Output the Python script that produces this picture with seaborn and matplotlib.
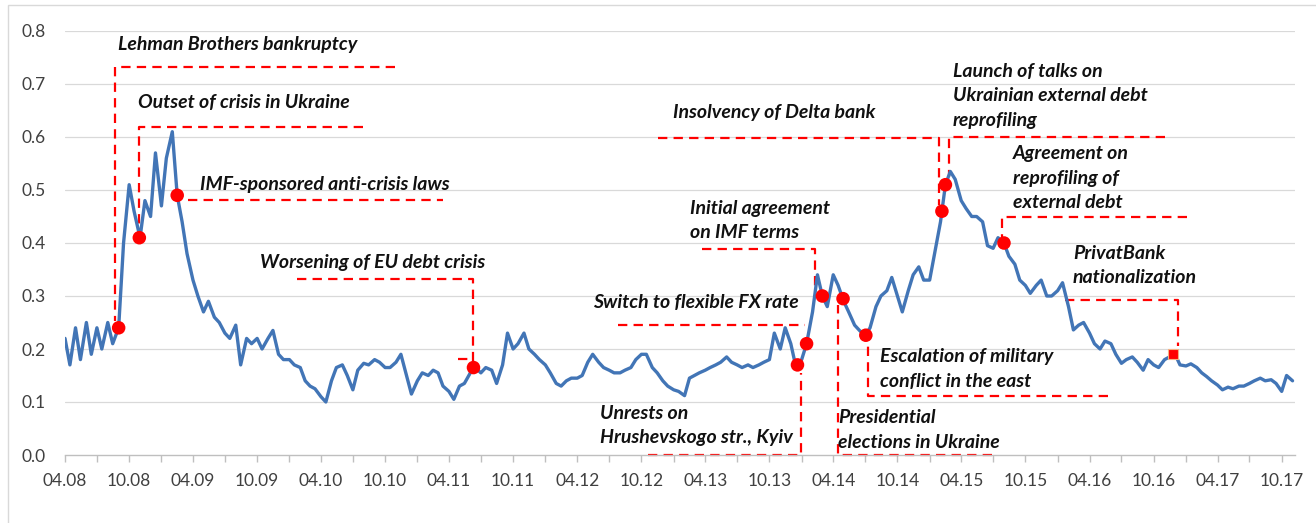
import matplotlib
matplotlib.use("Agg")
import matplotlib.pyplot as plt
import matplotlib.dates as mdates
import matplotlib.patches as mpatches
import pandas as pd
import seaborn as sns

# ---- data (semi-monthly readings, 1st and 15th of month) ----
v2008 = [0.22, 0.17, 0.24, 0.18, 0.25, 0.19, 0.24, 0.20, 0.25, 0.21, 0.24, 0.40,
         0.51, 0.46, 0.41, 0.48, 0.45, 0.57]
v2009 = [0.47, 0.56, 0.61, 0.49, 0.44, 0.38, 0.33, 0.30, 0.27, 0.29, 0.26, 0.25,
         0.23, 0.22, 0.245, 0.17, 0.22, 0.21, 0.22, 0.20, 0.22, 0.235, 0.19, 0.18]
v2010 = [0.18, 0.17, 0.165, 0.14, 0.13, 0.125, 0.11, 0.10, 0.14, 0.165, 0.17, 0.15,
         0.123, 0.16, 0.173, 0.17, 0.18, 0.175, 0.165, 0.165, 0.175, 0.19, 0.15, 0.115]
v2011 = [0.14, 0.155, 0.15, 0.16, 0.155, 0.13, 0.12, 0.105, 0.13, 0.135, 0.155, 0.165,
         0.155, 0.165, 0.16, 0.135, 0.17, 0.23, 0.20, 0.21, 0.23, 0.20, 0.19, 0.18]
v2012 = [0.17, 0.155, 0.135, 0.13, 0.14, 0.145, 0.145, 0.15, 0.175, 0.19, 0.175, 0.165,
         0.16, 0.155, 0.155, 0.16, 0.165, 0.18, 0.19, 0.19, 0.165, 0.155, 0.14, 0.13]
v2013 = [0.123, 0.12, 0.112, 0.145, 0.15, 0.155, 0.16, 0.165, 0.17, 0.175, 0.185, 0.175,
         0.17, 0.165, 0.17, 0.165, 0.17, 0.175, 0.18, 0.23, 0.20, 0.24, 0.21, 0.168]
v2014 = [0.18, 0.21, 0.27, 0.34, 0.30, 0.28, 0.34, 0.32, 0.29, 0.27, 0.245, 0.235,
         0.225, 0.24, 0.28, 0.30, 0.31, 0.335, 0.30, 0.27, 0.31, 0.34, 0.355, 0.33]
v2015 = [0.33, 0.38, 0.44, 0.51, 0.535, 0.52, 0.48, 0.465, 0.45, 0.45, 0.44, 0.395,
         0.39, 0.41, 0.40, 0.375, 0.36, 0.33, 0.32, 0.305, 0.32, 0.33, 0.30, 0.30]
v2016 = [0.31, 0.325, 0.28, 0.236, 0.245, 0.25, 0.23, 0.21, 0.20, 0.215, 0.21, 0.19,
         0.173, 0.18, 0.185, 0.175, 0.16, 0.18, 0.17, 0.165, 0.18, 0.185, 0.19, 0.17]
v2017 = [0.168, 0.172, 0.165, 0.155, 0.148, 0.14, 0.132, 0.123, 0.128, 0.125, 0.13,
         0.13, 0.135, 0.14, 0.145, 0.14, 0.142, 0.135, 0.12, 0.15, 0.14]

series_start = "2008-04-01"
series_end = "2017-11-01"

# events (dot markers)
event_dates = ["2008-09-01", "2008-10-30", "2009-02-15", "2011-06-10", "2013-12-20",
               "2014-01-15", "2014-03-01", "2014-04-29", "2014-07-03", "2015-02-05",
               "2015-02-15", "2015-08-01"]
event_values = [0.24, 0.41, 0.49, 0.165, 0.17, 0.21, 0.30, 0.295, 0.226, 0.46, 0.51, 0.40]
square_dates = ["2016-11-25"]
square_values = [0.19]

# annotation labels: (text lines, left date, top-line value)
labels = [
    (["Lehman Brothers bankruptcy"], "2008-08-30", 0.775),
    (["Outset of crisis in Ukraine"], "2008-10-26", 0.666),
    (["IMF-sponsored anti-crisis laws"], "2009-04-21", 0.511),
    (["Worsening of EU debt crisis"], "2009-10-09", 0.364),
    (["Switch to flexible FX rate"], "2012-05-16", 0.287),
    (["Initial agreement", "on IMF terms"], "2013-02-16", 0.466),
    (["Unrests on", "Hrushevskogo str., Kyiv"], "2012-06-04", 0.079),
    (["Presidential", "elections in Ukraine"], "2014-04-14", 0.070),
    (["Escalation of military", "conflict in the east"], "2014-08-12", 0.185),
    (["Insolvency of Delta bank"], "2012-12-30", 0.647),
    (["Launch of talks on", "Ukrainian external debt", "reprofiling"], "2015-03-08", 0.723),
    (["Agreement on", "reprofiling of", "external debt"], "2015-08-26", 0.568),
    (["PrivatBank", "nationalization"], "2016-02-14", 0.381),
]

# leader lines (dashed), each a polyline of (date, value)
leaders = [
    [("2010-10-29", 0.732), ("2008-08-21", 0.732), ("2008-08-21", 0.252)],
    [("2010-07-30", 0.619), ("2008-10-29", 0.619), ("2008-10-29", 0.425)],
    [("2009-03-18", 0.481), ("2011-03-15", 0.481)],
    [("2010-01-23", 0.332), ("2011-06-08", 0.332), ("2011-06-08", 0.178)],
    [("2011-04-27", 0.181), ("2011-05-31", 0.181)],
    [("2012-07-26", 0.245), ("2014-01-10", 0.245)],
    [("2013-03-22", 0.389), ("2014-02-08", 0.389), ("2014-02-08", 0.312)],
    [("2012-10-19", 0.0), ("2013-12-30", 0.0), ("2013-12-30", 0.155)],
    [("2015-06-27", 0.0), ("2014-04-14", 0.0), ("2014-04-14", 0.283)],
    [("2016-05-23", 0.111), ("2014-07-09", 0.111), ("2014-07-09", 0.212)],
    [("2012-11-17", 0.598), ("2015-01-27", 0.598), ("2015-01-27", 0.472)],
    [("2016-11-02", 0.600), ("2015-02-25", 0.600), ("2015-02-25", 0.525)],
    [("2017-01-03", 0.449), ("2015-07-26", 0.449), ("2015-07-26", 0.412)],
    [("2016-01-21", 0.292), ("2016-12-09", 0.292), ("2016-12-09", 0.205)],
]

y_ticks = [0.0, 0.1, 0.2, 0.3, 0.4, 0.5, 0.6, 0.7, 0.8]

# ---- build frame ----
dates = pd.date_range(series_start, series_end, freq="SMS")
values = v2008 + v2009 + v2010 + v2011 + v2012 + v2013 + v2014 + v2015 + v2016 + v2017
df = pd.DataFrame({"date": dates, "value": values})
ev = pd.DataFrame({"date": pd.to_datetime(event_dates), "value": event_values})
sq = pd.DataFrame({"date": pd.to_datetime(square_dates), "value": square_values})

# ---- style ----
sns.set_theme(style="white")
plt.rcParams["font.family"] = ["Lato", "DejaVu Sans"]

fig = plt.figure(figsize=(13.16, 5.23), dpi=100)
ax = fig.add_axes([65 / 1316, (523 - 455) / 523, 1230 / 1316, 424 / 523])

RED = "#FF0000"
BLUE = "#4275B6"

for y in y_ticks[1:]:
    ax.axhline(y, color="#D9D9D9", linewidth=0.9, zorder=0)

sns.lineplot(data=df, x="date", y="value", ax=ax, color=BLUE, linewidth=2.4, zorder=3)

for path in leaders:
    xs = [pd.Timestamp(p[0]) for p in path]
    ys = [p[1] for p in path]
    ax.plot(xs, ys, color=RED, linewidth=1.6, dashes=(4.2, 2.8), zorder=2, clip_on=False)

sns.scatterplot(data=ev, x="date", y="value", ax=ax, color=RED, s=95,
                edgecolor="none", zorder=5)
sns.scatterplot(data=sq, x="date", y="value", ax=ax, color=RED, marker="s", s=55,
                edgecolor="#F4B183", linewidth=0.8, zorder=5)

line_step = 0.0455
for lines, d, top in labels:
    for i, t in enumerate(lines):
        ax.text(pd.Timestamp(d), top - i * line_step, t, fontsize=14,
                fontweight="bold", fontstyle="italic", color="#111111",
                ha="left", va="center", zorder=6)

ax.set_xlim(pd.Timestamp("2008-04-01"), pd.Timestamp("2017-11-08"))
ax.set_ylim(0, 0.8)
ax.set_yticks(y_ticks)
ax.set_yticklabels([f"{y:.1f}" for y in y_ticks])
ax.xaxis.set_major_locator(mdates.MonthLocator(bymonth=[4, 10]))
ax.xaxis.set_major_formatter(mdates.DateFormatter("%m.%y"))
ax.xaxis.set_minor_locator(mdates.MonthLocator(bymonth=[1, 7]))

for s in ["left", "right", "top"]:
    ax.spines[s].set_visible(False)
ax.spines["bottom"].set_color("#BFBFBF")
ax.spines["bottom"].set_linewidth(1.0)

ax.tick_params(axis="x", which="both", direction="out", length=5, width=1,
               color="#BFBFBF", labelsize=12.5, labelcolor="#404040", pad=8, bottom=True)
ax.tick_params(axis="y", length=0, labelsize=12.5, labelcolor="#404040", pad=14)
ax.set_xlabel("")
ax.set_ylabel("")
ax.grid(False)

fig.patches.append(mpatches.Rectangle((8 / 1316, -0.02), 1.0, (523 - 5) / 523 + 0.02,
                                      transform=fig.transFigure, fill=False,
                                      edgecolor="#D9D9D9", linewidth=1.0))

fig.savefig("out.png", dpi=100)
